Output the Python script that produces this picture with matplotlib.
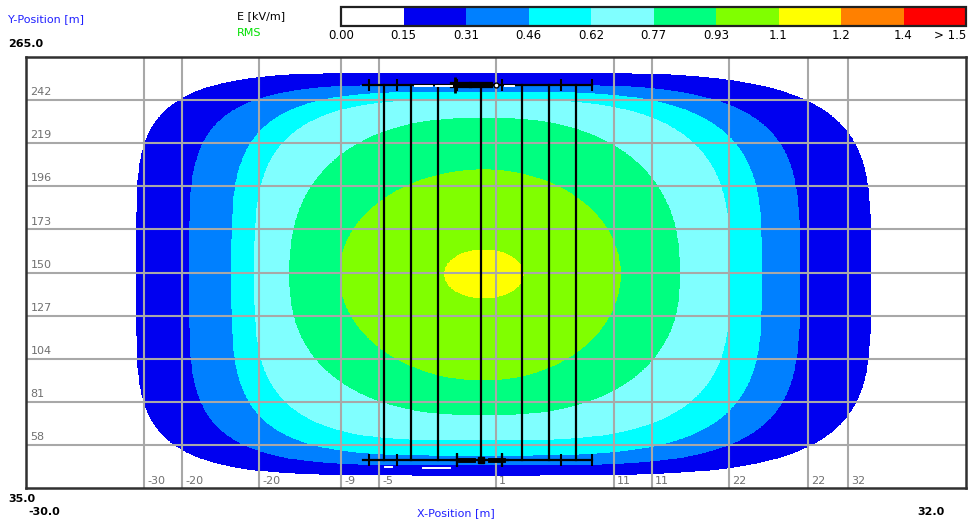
"""Ground-level RMS electric field map below the overhead line (plan view)."""

import numpy as np
import matplotlib.pyplot as plt

W, H = 972, 522

# colour scale of the field map
levels = [0.0, 0.15, 0.31, 0.46, 0.62, 0.77, 0.93, 1.1, 1.2, 1.4, 1.5]
level_labels = ["0.00", "0.15", "0.31", "0.46", "0.62", "0.77", "0.93",
                "1.1", "1.2", "1.4", "> 1.5"]
band_colors = ["#FFFFFF", "#0000F0", "#0080FF", "#00FFFF", "#80FFFF",
               "#00FF80", "#80FF00", "#FFFF00", "#FF8000", "#FF0000"]

# iso-line extents measured from the field maximum (m)
iso_levels = [0.15, 0.31, 0.46, 0.62, 0.77, 0.93, 1.1]
iso_left = [22.9, 19.4, 16.6, 15.1, 12.8, 9.5, 2.6]
iso_right = [25.5, 20.8, 18.3, 16.2, 12.9, 9.0, 2.6]
iso_up = [107.3, 100.9, 97.1, 92.8, 83.2, 55.5, 12.8]
iso_down = [107.3, 101.9, 96.6, 88.6, 75.2, 56.6, 12.8]
shape_left = [5.0, 4.5, 4.0, 3.5, 2.4, 2.0, 2.0]
shape_right = [4.2, 4.0, 3.6, 3.2, 2.4, 2.0, 2.0]
field_centre = (0.2, 149.2)

# map window and grid
x_range = (-30.0, 32.0)
y_range = (35.0, 265.0)
grid_x = [-22.2, -19.7, -14.6, -9.2, -6.7, 1.0, 8.8, 11.3, 16.4, 21.6, 24.2]
grid_x_labels = ["-30", "-20", "-20", "-9", "-5", "1", "11", "11", "22", "22", "32"]
grid_y = [58, 81, 104, 127, 150, 173, 196, 219, 242]

# line geometry seen from above
span_x = [-6.4, -4.6, -2.8, 0.0, 2.7, 4.5, 6.3]
span_y = (50.0, 250.0)
arm_x = (-7.8, 7.3)
arm_ticks = [-7.4, -5.5, -1.6, 1.4, 5.3, 7.3]
top_clamps = [(-1.84, -0.75), (-0.6, 0.6)]
bottom_clamps = [(-1.37, -0.52), (0.6, 1.46)]
bottom_crosses = [-1.6, 1.4]
top_marks = [(-4.34, -3.22, 249.3), (-2.96, -1.9, 249.3), (1.59, 2.19, 249.3)]
bottom_marks = [(-6.32, -5.86, 46.2), (-3.81, -2.03, 45.7)]


def field_bands(xx, yy):
    cx, cy = field_centre
    dx = xx - cx
    dy = yy - cy
    count = np.zeros_like(xx, dtype=int)
    for left, right, up, down, pl, pr in zip(iso_left, iso_right, iso_up, iso_down,
                                             shape_left, shape_right):
        sx = np.where(dx < 0, left, right)
        sy = np.where(dy > 0, up, down)
        p = np.where(dx < 0, pl, pr)
        r = (np.abs(dx / sx) ** p + np.abs(dy / sy) ** p) ** (1.0 / p)
        count += (r <= 1.0).astype(int)
    lv = np.array(levels)
    return (lv[count] + lv[count + 1]) / 2


def ftext(x, y, s, **kw):
    plt.gcf().text(x / W, 1 - y / H, s, **kw)


fig = plt.figure(figsize=(W / 100, H / 100), dpi=100)
ax = fig.add_axes([26 / W, (H - 488) / H, 940 / W, 431 / H])

xs = np.linspace(*x_range, 1400)
ys = np.linspace(*y_range, 900)
XX, YY = np.meshgrid(xs, ys)
E = field_bands(XX, YY)
cs = ax.contourf(XX, YY, E, levels=levels, colors=band_colors, zorder=1)

for gx, lab in zip(grid_x, grid_x_labels):
    ax.axvline(gx, color="#A8A8A8", lw=1.5, zorder=2)
    ax.text(gx + 0.2, 39.0, lab, fontsize=8, color="#707070", ha="left", va="center", zorder=5)
for gy in grid_y:
    ax.axhline(gy, color="#A8A8A8", lw=1.5, zorder=2)
    ax.text(-29.7, gy + 1.5, str(gy), fontsize=8, color="#707070", ha="left", va="bottom", zorder=5)

# spans and cross arms
for sx in span_x:
    ax.plot([sx, sx], span_y, color="black", lw=1.6, zorder=3)
for y0 in span_y:
    ax.plot(arm_x, [y0, y0], color="black", lw=1.6, zorder=3)
    ax.plot(arm_ticks, [y0] * len(arm_ticks), "|", color="black", ms=8, mew=1.5, zorder=3)
for a, b in top_clamps:
    ax.plot([a, b], [span_y[1]] * 2, color="black", lw=4.5, zorder=3)
for a, b in bottom_clamps:
    ax.plot([a, b], [span_y[0]] * 2, color="black", lw=3.5, zorder=3)
ax.plot(bottom_crosses, [span_y[0]] * 2, "+", color="black", ms=10, mew=1.6, zorder=3)
ax.plot([0.0], [span_y[0]], "s", color="black", ms=5, zorder=3)
ax.plot([-1.7], [span_y[1]], "|", color="black", ms=11, mew=2, zorder=3)
ax.plot([1.0], [span_y[1]], "o", color="white", mec="black", ms=3.5, mew=1, zorder=4)
for a, b, y in top_marks + bottom_marks:
    ax.plot([a, b], [y, y], color="white", lw=1.4, zorder=4)

ax.set_xlim(*x_range)
ax.set_ylim(*y_range)
ax.set_xticks([])
ax.set_yticks([])
for sp in ax.spines.values():
    sp.set_color("#303030")
    sp.set_linewidth(1.8)

# colour legend
cax = fig.add_axes([341 / W, (H - 26) / H, 625 / W, 19 / H])
cb = fig.colorbar(cs, cax=cax, orientation="horizontal", ticks=levels)
cb.set_ticklabels(level_labels)
cax.tick_params(length=0, labelsize=8.5, pad=2)
cax.get_xticklabels()[-1].set_horizontalalignment("right")
cb.outline.set_linewidth(1.6)
cb.outline.set_edgecolor("#202020")

# axis captions and range values
ftext(8, 19, "Y-Position [m]", fontsize=8, color="#2020FF", va="center")
ftext(8, 44, "265.0", fontsize=8, fontweight="bold", va="center")
ftext(237, 16, "E [kV/m]", fontsize=8, va="center")
ftext(237, 33, "RMS", fontsize=8, color="#00E000", va="center")
ftext(8, 499, "35.0", fontsize=8, fontweight="bold", va="center")
ftext(28, 512, "-30.0", fontsize=8, fontweight="bold", va="center")
ftext(917, 512, "32.0", fontsize=8, fontweight="bold", va="center")
ftext(456, 513, "X-Position [m]", fontsize=8, color="#2020FF", ha="center", va="center")

fig.savefig("out.png", dpi=100)
